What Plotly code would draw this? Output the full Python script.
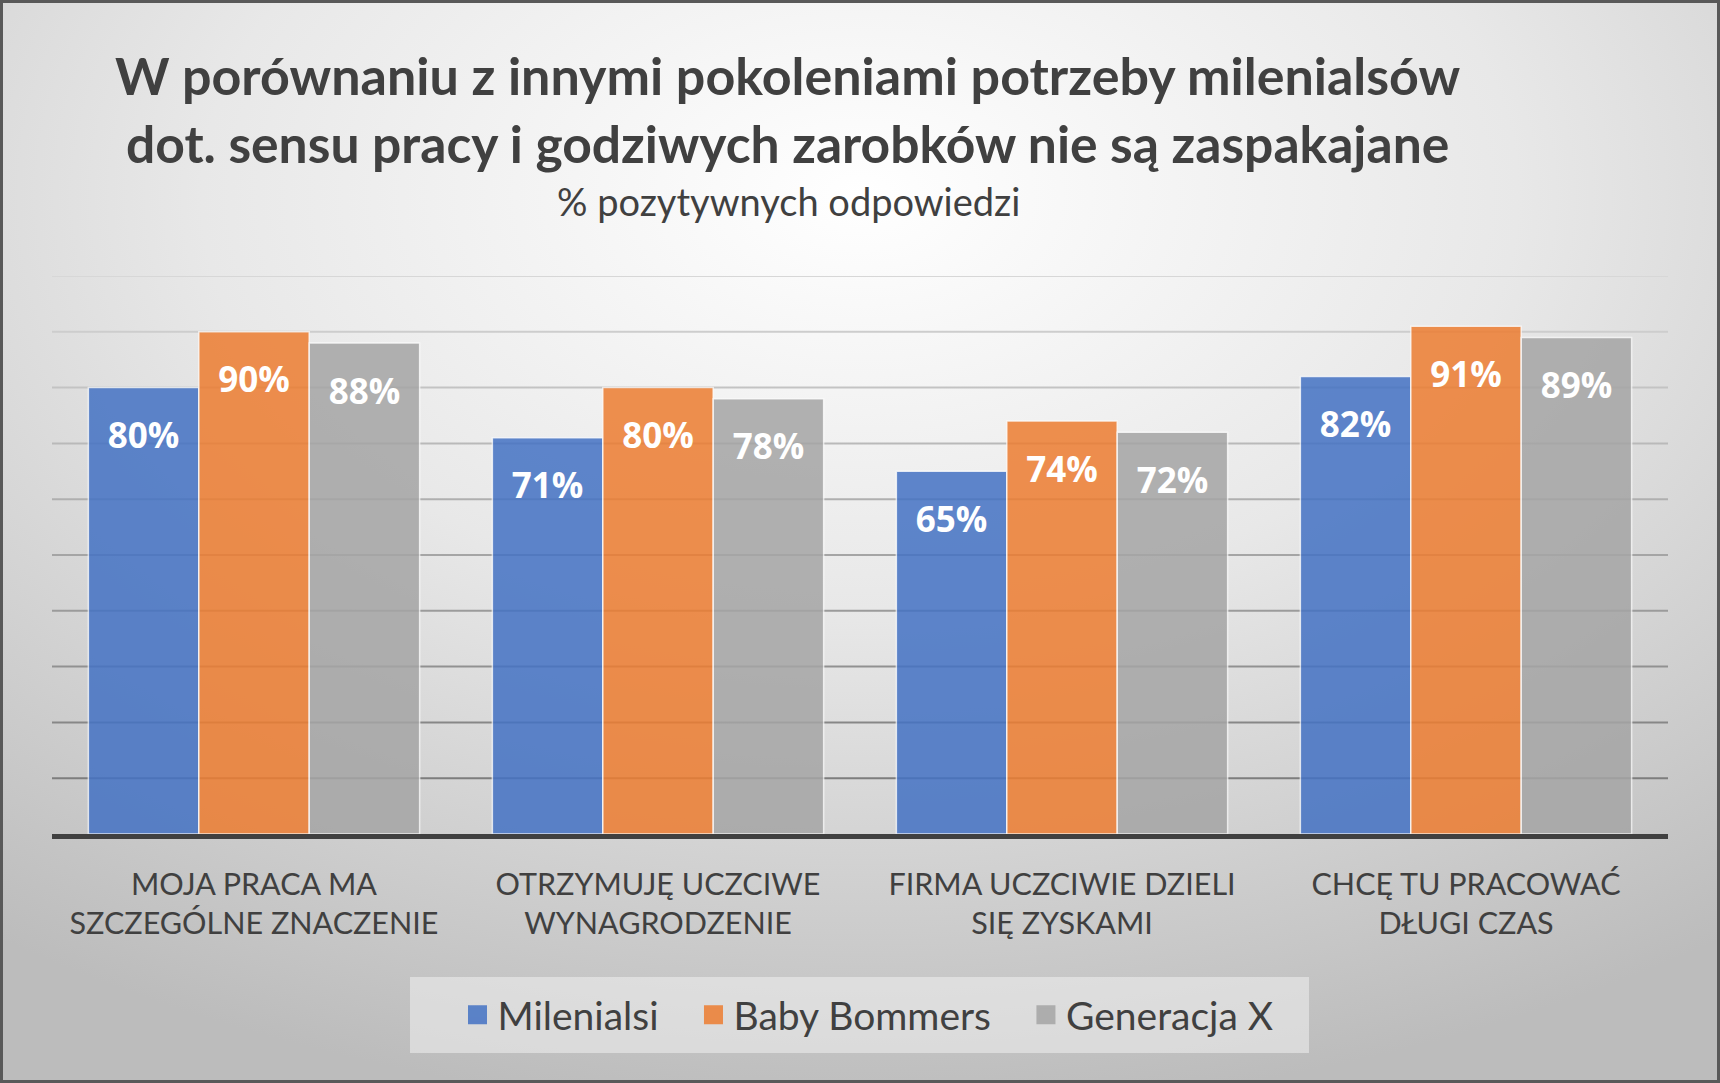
import base64
import plotly.graph_objects as go

W, H = 1720, 1083
ML, MR, MT, MB = 52, 52, 276, 249
PW, PH = W - ML - MR, H - MT - MB

categories = [
    "MOJA PRACA MA<br>SZCZEGÓLNE ZNACZENIE",
    "OTRZYMUJĘ UCZCIWE<br>WYNAGRODZENIE",
    "FIRMA UCZCIWIE DZIELI<br>SIĘ ZYSKAMI",
    "CHCĘ TU PRACOWAĆ<br>DŁUGI CZAS",
]
series_names = ["Milenialsi", "Baby Bommers", "Generacja X"]
milenialsi = [80, 71, 65, 82]
baby_bommers = [90, 80, 74, 91]
generacja_x = [88, 78, 72, 89]
grid_values = [10, 20, 30, 40, 50, 60, 70, 80, 90, 100]

title_line1 = "W porównaniu z innymi pokoleniami potrzeby milenialsów"
title_line2 = "dot. sensu pracy i godziwych zarobków nie są zaspakajane"
subtitle = "% pozytywnych odpowiedzi"

colors = ["#4472C4", "#ED7D31", "#A5A5A5"]
values = [milenialsi, baby_bommers, generacja_x]

fig = go.Figure()

for name, vals, col, grp in zip(series_names, values, colors, ["a", "b", "c"]):
    fig.add_trace(go.Bar(
        x=categories, y=vals, name=name, marker_color=col, opacity=0.85,
        marker_line=dict(color="rgba(255,255,255,0.8)", width=1.5),
        offsetgroup=grp, showlegend=False, hoverinfo="skip",
    ))

# data labels on an overlay axis shifted down
LABEL_SHIFT = 9.3
for name, vals, grp in zip(series_names, values, ["a", "b", "c"]):
    fig.add_trace(go.Scatter(
        x=categories, y=vals, mode="text", yaxis="y2",
        text=[f"{v}%" for v in vals], textposition="middle center",
        textfont=dict(family="Open Sans", size=35, color="white", weight="bold"),
        offsetgroup=grp, showlegend=False, hoverinfo="skip",
    ))

# legend entries (trailing no-break spaces only widen the gap between items)
pads = [3, 3, 0]
for name, col, pad in zip(series_names, colors, pads):
    fig.add_trace(go.Scatter(
        x=[None], y=[None], mode="markers", name=name + "\u00a0" * pad,
        marker=dict(symbol="square", size=16, color=col, opacity=0.85,
                    line=dict(color=col, width=3)),
    ))

# background gradient
svg = (
    f'<svg xmlns="http://www.w3.org/2000/svg" width="{W}" height="{H}" preserveAspectRatio="none">'
    '<defs><radialGradient id="g" cx="0.5" cy="0.18" r="0.85">'
    '<stop offset="0" stop-color="#ffffff"/>'
    '<stop offset="0.45" stop-color="#e8e8e8"/>'
    '<stop offset="1" stop-color="#bcbcbc"/>'
    '</radialGradient></defs>'
    f'<rect width="{W}" height="{H}" fill="url(#g)"/></svg>'
)
src = "data:image/svg+xml;base64," + base64.b64encode(svg.encode()).decode()

def px(x):
    return (x - ML) / PW

def py(y):
    return (H - MB - y) / PH

fig.add_layout_image(dict(
    source=src, xref="paper", yref="paper", x=px(0), y=py(0),
    sizex=W / PW, sizey=H / PH, sizing="stretch", layer="below",
    xanchor="left", yanchor="top",
))

shapes = []
for i, gv in enumerate(grid_values):
    t = i / (len(grid_values) - 1)
    c = int(125 + t * (215 - 125))
    shapes.append(dict(type="line", xref="paper", yref="y", x0=0, x1=1, y0=gv, y1=gv,
                       line=dict(color=f"rgb({c},{c},{c})", width=2), layer="below"))
# legend box
shapes.append(dict(type="rect", xref="paper", yref="paper",
                   x0=px(410), x1=px(1309), y0=py(977), y1=py(1053),
                   fillcolor="rgba(240,240,240,0.55)", line=dict(width=0), layer="below"))
# outer border
shapes.append(dict(type="rect", xref="paper", yref="paper",
                   x0=px(1.5), x1=px(W - 1.5), y0=py(1.5), y1=py(H - 1.5),
                   line=dict(color="#595959", width=3), layer="above"))

annotations = [
    dict(text=title_line1, xref="paper", yref="paper", x=px(788), y=py(75),
         xanchor="center", yanchor="middle", showarrow=False,
         font=dict(family="Lato", size=52, color="#404040", weight="bold")),
    dict(text=title_line2, xref="paper", yref="paper", x=px(787), y=py(143),
         xanchor="center", yanchor="middle", showarrow=False,
         font=dict(family="Lato", size=51.6, color="#404040", weight="bold")),
    dict(text=subtitle, xref="paper", yref="paper", x=px(788), y=py(201),
         xanchor="center", yanchor="middle", showarrow=False,
         font=dict(family="Lato", size=38, color="#404040")),
]

fig.update_layout(
    width=W, height=H,
    margin=dict(l=ML, r=MR, t=MT, b=MB),
    paper_bgcolor="#d9d9d9", plot_bgcolor="rgba(0,0,0,0)",
    barmode="group", bargap=0.18, bargroupgap=0,
    scattermode="group", scattergap=0.18,
    shapes=shapes, annotations=annotations,
    showlegend=True,
    legend=dict(orientation="h", x=px(868), xanchor="center", y=py(1015), yanchor="middle",
                bgcolor="rgba(0,0,0,0)", font=dict(family="Lato", size=39, color="#404040"),
                itemsizing="trace"),
    xaxis=dict(showline=True, linecolor="#404040", linewidth=5, ticks="outside",
               ticklen=19, tickcolor="rgba(0,0,0,0)",
               tickfont=dict(family="Lato", size=30.5, color="#404040"),
               showgrid=False, zeroline=False),
    yaxis=dict(range=[0, 100], showgrid=False, zeroline=False, showticklabels=False,
               showline=False),
    yaxis2=dict(range=[LABEL_SHIFT, 100 + LABEL_SHIFT], overlaying="y", visible=False,
                showgrid=False, zeroline=False),
)

fig.write_html("out.html")
